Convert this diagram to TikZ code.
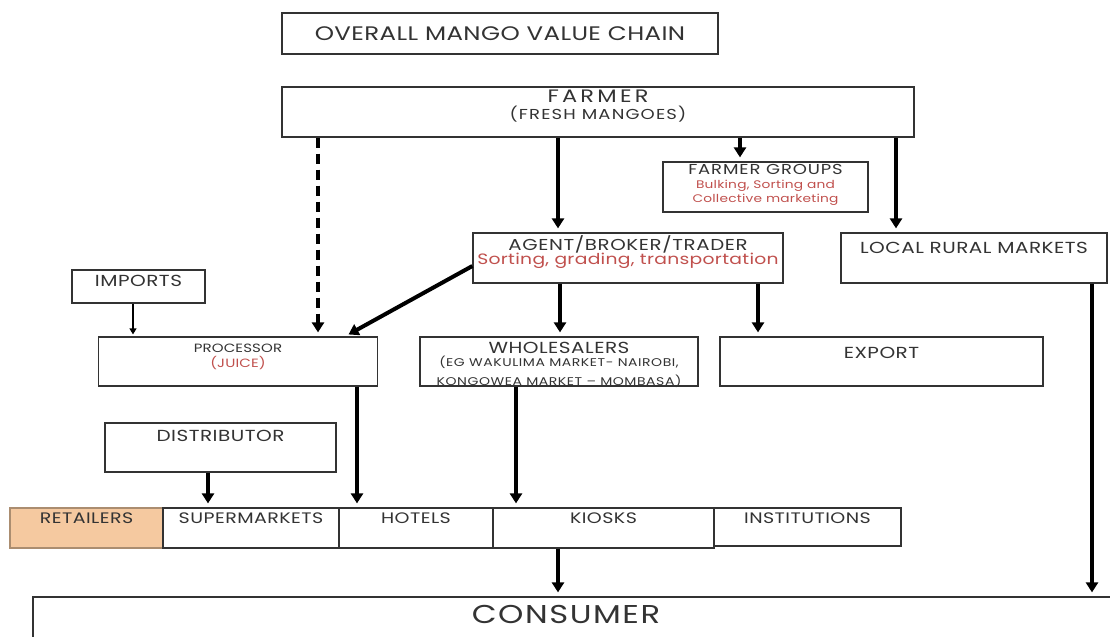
\documentclass[tikz,border=0pt]{standalone}
\usepackage{fontspec}
\setmainfont{Poppins}
\newfontfamily\gothic[FakeStretch=1.25]{Poppins}
\usetikzlibrary{arrows.meta,positioning}
\definecolor{InkGrey}{HTML}{333333}
\definecolor{NoteRed}{HTML}{C0504D}
\definecolor{RetailTan}{HTML}{F5C9A0}

\begin{document}
\begin{tikzpicture}[
  x=0.5pt, y=-0.5pt,
  box/.style={draw=black!80, line width=0.6pt, inner sep=0pt},
  txt/.style={inner sep=1pt, align=center, text=InkGrey},
  lbl/.style={txt, font=\gothic\fontsize{8}{9.5}\selectfont\addfontfeature{LetterSpace=3}},
  rowlbl/.style={txt, font=\gothic\fontsize{7.6}{9}\selectfont\addfontfeature{LetterSpace=3}},
  flow/.style={line width=2pt, -{Triangle[width=6pt,length=5pt]}, shorten >=2pt},
  thinflow/.style={line width=0.6pt, -{Triangle[width=3.5pt,length=3pt]}, shorten >=1pt},
  loose/.style={dash pattern=on 5pt off 3pt}
]
\useasboundingbox (0,0) rectangle (1110,637);
\clip (0,0) rectangle (1110,637);

% boxes
\node[box, minimum width=218pt, minimum height=20.5pt] (title) at (500,33.5) {};
\node[box, minimum width=316pt, minimum height=25pt] (farmer) at (598,112) {};
\node[box, minimum width=102.5pt, minimum height=25pt] (groups) at (765.5,187) {};
\node[box, minimum width=155pt, minimum height=25pt] (agent) at (628,258) {};
\node[box, minimum width=133pt, minimum height=25pt] (local) at (974,258) {};
\node[box, minimum width=66.5pt, minimum height=16.5pt] (imports) at (138.5,286.5) {};
\node[box, minimum width=139.5pt, minimum height=24.5pt] (proc) at (238,361.5) {};
\node[box, minimum width=139pt, minimum height=24.5pt] (whole) at (559,361.5) {};
\node[box, minimum width=161.5pt, minimum height=24.5pt] (export) at (881.5,361.5) {};
\node[box, minimum width=115.5pt, minimum height=24.5pt] (dist) at (220.5,447.5) {};
\node[box, fill=RetailTan, draw=RetailTan!70!black, minimum width=76.5pt, minimum height=20pt] (retail) at (86.5,528) {};
\node[box, minimum width=88pt, minimum height=20pt] (super) at (251,528) {};
\node[box, minimum width=77pt, minimum height=20pt] (hotels) at (416,528) {};
\node[box, minimum width=110.5pt, minimum height=20pt] (kiosks) at (603.5,528) {};
\node[box, minimum width=93.5pt, minimum height=19pt] (instit) at (807.5,527) {};
\node[box, minimum width=548.5pt, minimum height=31.5pt] (cons) at (581.5,628.5) {};

% texts
\node[txt, font=\gothic\fontsize{9.8}{11}\selectfont\addfontfeature{LetterSpace=2}] (title-t) at (title) {OVERALL MANGO VALUE CHAIN};
\node[txt, below=0.5pt of farmer.north, font=\gothic\fontsize{9}{10}\selectfont\addfontfeature{LetterSpace=18}] (farmer-t) {FARMER\\[-1.5pt]\fontsize{7.2}{8}\selectfont\addfontfeature{LetterSpace=8}(FRESH MANGOES)};
\node[txt, below=0.5pt of groups.north, font=\gothic\fontsize{7.2}{7}\selectfont\addfontfeature{LetterSpace=6}] (groups-t) {FARMER GROUPS\\\color{NoteRed}\fontsize{5.5}{6.6}\selectfont\addfontfeature{LetterSpace=2}Bulking, Sorting and\\\color{NoteRed}\fontsize{5.5}{6.6}\selectfont\addfontfeature{LetterSpace=2}Collective marketing};
\node[txt, below=0.5pt of agent.north, font=\gothic\fontsize{7.9}{8.5}\selectfont\addfontfeature{LetterSpace=4}] (agent-t) {AGENT/BROKER/TRADER\\[-1.5pt]\color{NoteRed}\fontsize{7.5}{8.5}\selectfont\addfontfeature{LetterSpace=2}Sorting, grading, transportation};
\node[lbl, below=3.5pt of local.north] (local-t) {LOCAL RURAL MARKETS};
\node[lbl, below=1.5pt of imports.north] (imports-t) {IMPORTS};
\node[txt, below=2.5pt of proc.north, font=\gothic\fontsize{6}{7.5}\selectfont\addfontfeature{LetterSpace=1}] (proc-t) {PROCESSOR\\\color{NoteRed}(JUICE)};
\node[lbl, below=1.5pt of whole.north] (whole-t) {WHOLESALERS\\[-2.8pt]\fontsize{5.6}{5.6}\selectfont\addfontfeature{LetterSpace=5}(EG WAKULIMA MARKET- NAIROBI,\\\fontsize{5.6}{5.6}\selectfont\addfontfeature{LetterSpace=5}KONGOWEA MARKET – MOMBASA)};
\node[lbl, below=4pt of export.north] (export-t) {EXPORT};
\node[lbl, below=2.5pt of dist.north] (dist-t) {DISTRIBUTOR};
\node[rowlbl, below=1.5pt of retail.north] (retail-t) {RETAILERS};
\node[rowlbl, below=1.5pt of super.north] (super-t) {SUPERMARKETS};
\node[rowlbl, below=1.5pt of hotels.north] (hotels-t) {HOTELS};
\node[rowlbl, below=1.5pt of kiosks.north] (kiosks-t) {KIOSKS};
\node[rowlbl, below=1.5pt of instit.north] (instit-t) {INSTITUTIONS};
\node[txt, font=\gothic\fontsize{12.9}{14}\selectfont\addfontfeature{LetterSpace=6}] (cons-t) at (566,614) {CONSUMER};

% arrow columns
\coordinate (c-proc) at (318,0);
\coordinate (c-agent) at (558,0);
\coordinate (c-groups) at (740,0);
\coordinate (c-local) at (896,0);
\coordinate (c-whole) at (560,0);
\coordinate (c-export) at (758,0);
\coordinate (c-diag) at (345,0);
\coordinate (c-imports) at (133,0);
\coordinate (c-super) at (357,0);
\coordinate (c-hotels) at (516,0);
\coordinate (c-dist) at (208,0);
\coordinate (c-kiosks) at (558,0);
\coordinate (c-cons) at (1092,0);

% flows
\draw[flow, loose] (farmer.south -| c-proc) -- (proc.north -| c-proc);
\draw[flow] (farmer.south -| c-agent) -- (agent.north -| c-agent);
\draw[flow, loose, line width=1.6pt] (farmer.south -| c-groups) -- (groups.north -| c-groups);
\draw[flow] (farmer.south -| c-local) -- (local.north -| c-local);
\draw[flow] ([yshift=-4pt]agent.west) -- (proc.north -| c-diag);
\draw[flow] (agent.south -| c-whole) -- (whole.north -| c-whole);
\draw[flow] (agent.south -| c-export) -- (export.north -| c-export);
\draw[thinflow] (imports.south -| c-imports) -- (proc.north -| c-imports);
\draw[flow] (proc.south -| c-super) -- (super.north -| c-super);
\draw[flow] (whole.south -| c-hotels) -- (hotels.north -| c-hotels);
\draw[flow] (dist.south -| c-dist) -- (super.north -| c-dist);
\draw[flow] (kiosks.south -| c-kiosks) -- (cons.north -| c-kiosks);
\draw[flow] (local.south -| c-cons) -- (cons.north -| c-cons);

\end{tikzpicture}
\end{document}
